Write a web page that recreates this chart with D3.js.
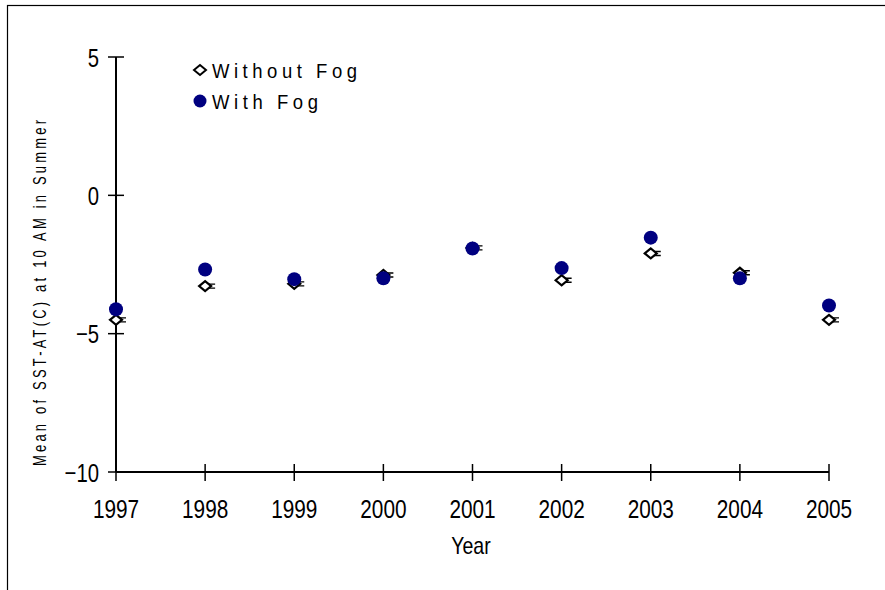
<!DOCTYPE html>
<html>
<head>
<meta charset="utf-8">
<script src="https://cdn.jsdelivr.net/npm/d3@7"></script>
<style>
  html, body { margin: 0; padding: 0; background: #fff; }
  svg { display: block; }
  text { font-family: "Liberation Sans", Arial, sans-serif; fill: #000; }
</style>
</head>
<body>
<script>
// Mean SST minus air temperature at 10 AM in summer, by year
const years = [1997, 1998, 1999, 2000, 2001, 2002, 2003, 2004, 2005];
const withoutFog = [-4.5, -3.28, -3.2, -2.88, -1.9, -3.07, -2.1, -2.8, -4.5];
const withFog = [-4.12, -2.68, -3.03, -3.0, -1.92, -2.63, -1.53, -3.0, -3.98];
const yTicks = [5, 0, -5, -10];
const seriesNames = ["Without Fog", "With Fog"];

const W = 885, H = 590;
const svg = d3.select("body").append("svg").attr("width", W).attr("height", H);

// outer frame
svg.append("rect").attr("x", 7.5).attr("y", 5.5).attr("width", 900).attr("height", 620)
  .attr("fill", "none").attr("stroke", "#000").attr("stroke-width", 1.2);

const x = d3.scaleLinear().domain([1997, 2005]).range([116, 829]);
const y = d3.scaleLinear().domain([-10, 5]).range([472, 57]);

// condensed text: glyphs squeezed horizontally by `sx`, total width `len`
function narrowText(parent, transform, str, size, sx, len, anchor) {
  const g = parent.append("g").attr("transform", `${transform} scale(${sx},1)`);
  const t = g.append("text").attr("x", 0).attr("y", 0).attr("font-size", size)
    .attr("text-anchor", anchor || "start").text(str);
  if (len) t.attr("textLength", len / sx).attr("lengthAdjust", "spacing");
  return t;
}

// y axis
const yAxis = svg.append("g");
yAxis.append("line").attr("x1", x(1997)).attr("x2", x(1997)).attr("y1", y(5)).attr("y2", y(-10))
  .attr("stroke", "#000").attr("stroke-width", 2);
yAxis.selectAll("line.tick").data(yTicks).join("line").attr("class", "tick")
  .attr("x1", x(1997) - 8).attr("x2", x(1997) + 8)
  .attr("y1", d => y(d)).attr("y2", d => y(d))
  .attr("stroke", "#000").attr("stroke-width", 1.5);
yTicks.forEach(d => {
  narrowText(yAxis, `translate(${x(1997) - 17},${y(d) + 9.5})`,
    d < 0 ? "\u2212" + Math.abs(d) : String(d), 26, 0.78, null, "end");
});

// x axis
const xAxis = svg.append("g");
xAxis.append("line").attr("x1", x(1997)).attr("x2", x(2005)).attr("y1", y(-10)).attr("y2", y(-10))
  .attr("stroke", "#000").attr("stroke-width", 2);
xAxis.selectAll("line.tick").data(years).join("line").attr("class", "tick")
  .attr("x1", d => x(d)).attr("x2", d => x(d))
  .attr("y1", y(-10) - 8).attr("y2", y(-10) + 9)
  .attr("stroke", "#000").attr("stroke-width", 1.5);
years.forEach(d => {
  narrowText(xAxis, `translate(${x(d)},${y(-10) + 46})`, String(d), 26, 0.8, null, "middle");
});

// axis titles
narrowText(svg, "translate(471,554)", "Year", 23, 0.85, null, "middle");
narrowText(svg, "translate(46,293) rotate(-90)", "Mean of SST-AT(C) at 10 AM in Summer",
  18, 0.72, 346, "middle");

const navy = "#000080";
const diamondPath = (cx, cy) => `M${cx - 6},${cy} L${cx},${cy - 5} L${cx + 6},${cy} L${cx},${cy + 5} Z`;

// short error caps beside each point
function caps(data) {
  svg.append("g").selectAll("path").data(data).join("path")
    .attr("d", (d, i) => {
      const cx = x(years[i]), cy = y(d);
      return `M${cx + 3},${cy - 2}H${cx + 10}M${cx + 3},${cy + 2}H${cx + 10}`;
    })
    .attr("stroke", "#000").attr("stroke-width", 1.4).attr("fill", "none");
}

// Without Fog: open diamonds
caps(withoutFog);
svg.append("g").selectAll("path").data(withoutFog).join("path")
  .attr("d", (d, i) => diamondPath(x(years[i]), y(d)))
  .attr("fill", "#fff").attr("stroke", "#000").attr("stroke-width", 2.2);

// With Fog: filled navy circles
svg.append("g").selectAll("circle").data(withFog).join("circle")
  .attr("cx", (d, i) => x(years[i])).attr("cy", d => y(d)).attr("r", 7)
  .attr("fill", navy);

// legend
const lg = svg.append("g");
lg.append("path").attr("d", diamondPath(200, 70))
  .attr("fill", "#fff").attr("stroke", "#000").attr("stroke-width", 2);
lg.append("circle").attr("cx", 200).attr("cy", 101).attr("r", 6.5).attr("fill", navy);
const legendLen = [145, 106];
seriesNames.forEach((s, i) => {
  narrowText(lg, `translate(212,${78 + i * 31})`, s, 21, 0.88, legendLen[i], "start");
});
</script>
</body>
</html>
